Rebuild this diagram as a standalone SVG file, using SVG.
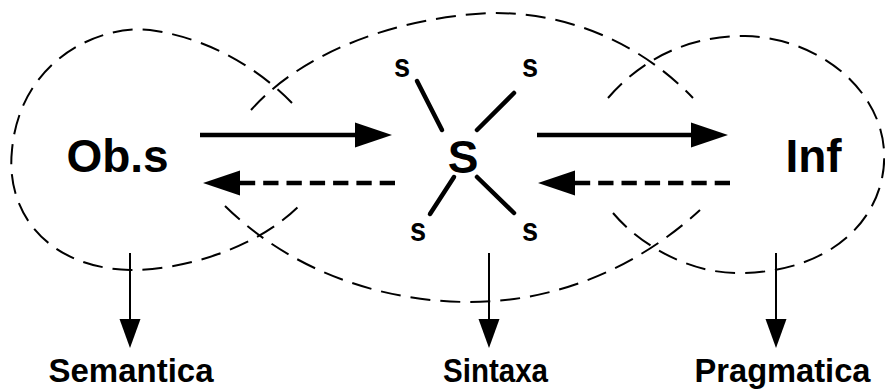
<svg xmlns="http://www.w3.org/2000/svg" width="885" height="391" viewBox="0 0 885 391">
  <style>
    .loop { fill: none; stroke: #000; stroke-width: 2; stroke-dasharray: 20 10; }
    .big { font-family: "Liberation Sans", Arial, sans-serif; font-weight: bold; font-size: 46px; fill: #000; text-anchor: middle; }
    .small { font-family: "Liberation Sans", Arial, sans-serif; font-weight: bold; font-size: 29px; fill: #000; text-anchor: middle; }
    .label { font-family: "Liberation Sans", Arial, sans-serif; font-weight: bold; font-size: 33px; fill: #000; text-anchor: middle; }
    .spoke { stroke: #000; stroke-width: 4.5; stroke-linecap: round; }
    .thick { fill: none; stroke: #000; stroke-width: 4.5; }
    .thickdash { fill: none; stroke: #000; stroke-width: 4.5; stroke-dasharray: 15.3 8; }
    .thin { fill: none; stroke: #000; stroke-width: 2; }
  </style>
  <defs>
    <marker id="bigHead" markerUnits="userSpaceOnUse" markerWidth="40" markerHeight="28" refX="0" refY="12.5" orient="auto" overflow="visible">
      <path d="M0,0 L37,12.5 L0,25 z" fill="#000"/>
    </marker>
    <marker id="smallHead" markerUnits="userSpaceOnUse" markerWidth="32" markerHeight="22" refX="0" refY="10.5" orient="auto" overflow="visible">
      <path d="M0,0 L29,10.5 L0,21 z" fill="#000"/>
    </marker>
  </defs>

  <g id="loops">
    <path id="loop-left" class="loop" d="M292,103 C260,70 210,38 150,30 C100,24 20,60 12,150 C5,215 50,268 130,270 C190,270 260,245 299,206"/>
    <path id="loop-middle-top" class="loop" d="M251,110 C300,55 390,18 490,13 C575,12 645,48 693,98"/>
    <path id="loop-middle-bottom" class="loop" d="M225,206 C290,270 380,302 470,302 C560,302 640,265 700,210"/>
    <path id="loop-right" class="loop" d="M608,98 C650,50 700,36 745,36 C820,38 880,90 884,150 C888,210 840,272 740,273 C690,274 640,245 613,213"/>
  </g>

  <g id="obs">
    <text class="big" x="117.5" y="172">Ob.s</text>
  </g>

  <g id="inf">
    <text class="big" x="813.5" y="172">Inf</text>
  </g>

  <g id="center-s">
    <text class="big" x="463" y="173">S</text>
    <line class="spoke" x1="417" y1="81" x2="442" y2="130"/>
    <line class="spoke" x1="514" y1="93" x2="477" y2="130"/>
    <line class="spoke" x1="454" y1="177" x2="430" y2="214"/>
    <line class="spoke" x1="477" y1="177" x2="514" y2="213"/>
    <text class="small" transform="translate(402,77) scale(1,1.15)">s</text>
    <text class="small" transform="translate(530,77) scale(1,1.15)">s</text>
    <text class="small" transform="translate(418,241) scale(1,1.15)">s</text>
    <text class="small" transform="translate(530,241) scale(1,1.15)">s</text>
  </g>

  <g id="semantica">
    <text class="label" x="131" y="382" textLength="165" lengthAdjust="spacingAndGlyphs">Semantica</text>
  </g>
  <g id="sintaxa">
    <text class="label" x="495.5" y="382" textLength="105" lengthAdjust="spacingAndGlyphs">Sintaxa</text>
  </g>
  <g id="pragmatica">
    <text class="label" x="782.5" y="382" textLength="176" lengthAdjust="spacingAndGlyphs">Pragmatica</text>
  </g>

  <g id="connectors">
    <path class="thick" d="M200,135 L355,135" marker-end="url(#bigHead)"/>
    <path class="thick" d="M537,135 L691,135" marker-end="url(#bigHead)"/>
    <path class="thickdash" d="M395,183 L240,183" marker-end="url(#bigHead)"/>
    <path class="thickdash" d="M730,183 L575,183" marker-end="url(#bigHead)"/>
    <path class="thin" d="M130,253 L130,319" marker-end="url(#smallHead)"/>
    <path class="thin" d="M489,253 L489,319" marker-end="url(#smallHead)"/>
    <path class="thin" d="M776,253 L776,319" marker-end="url(#smallHead)"/>
  </g>
</svg>
